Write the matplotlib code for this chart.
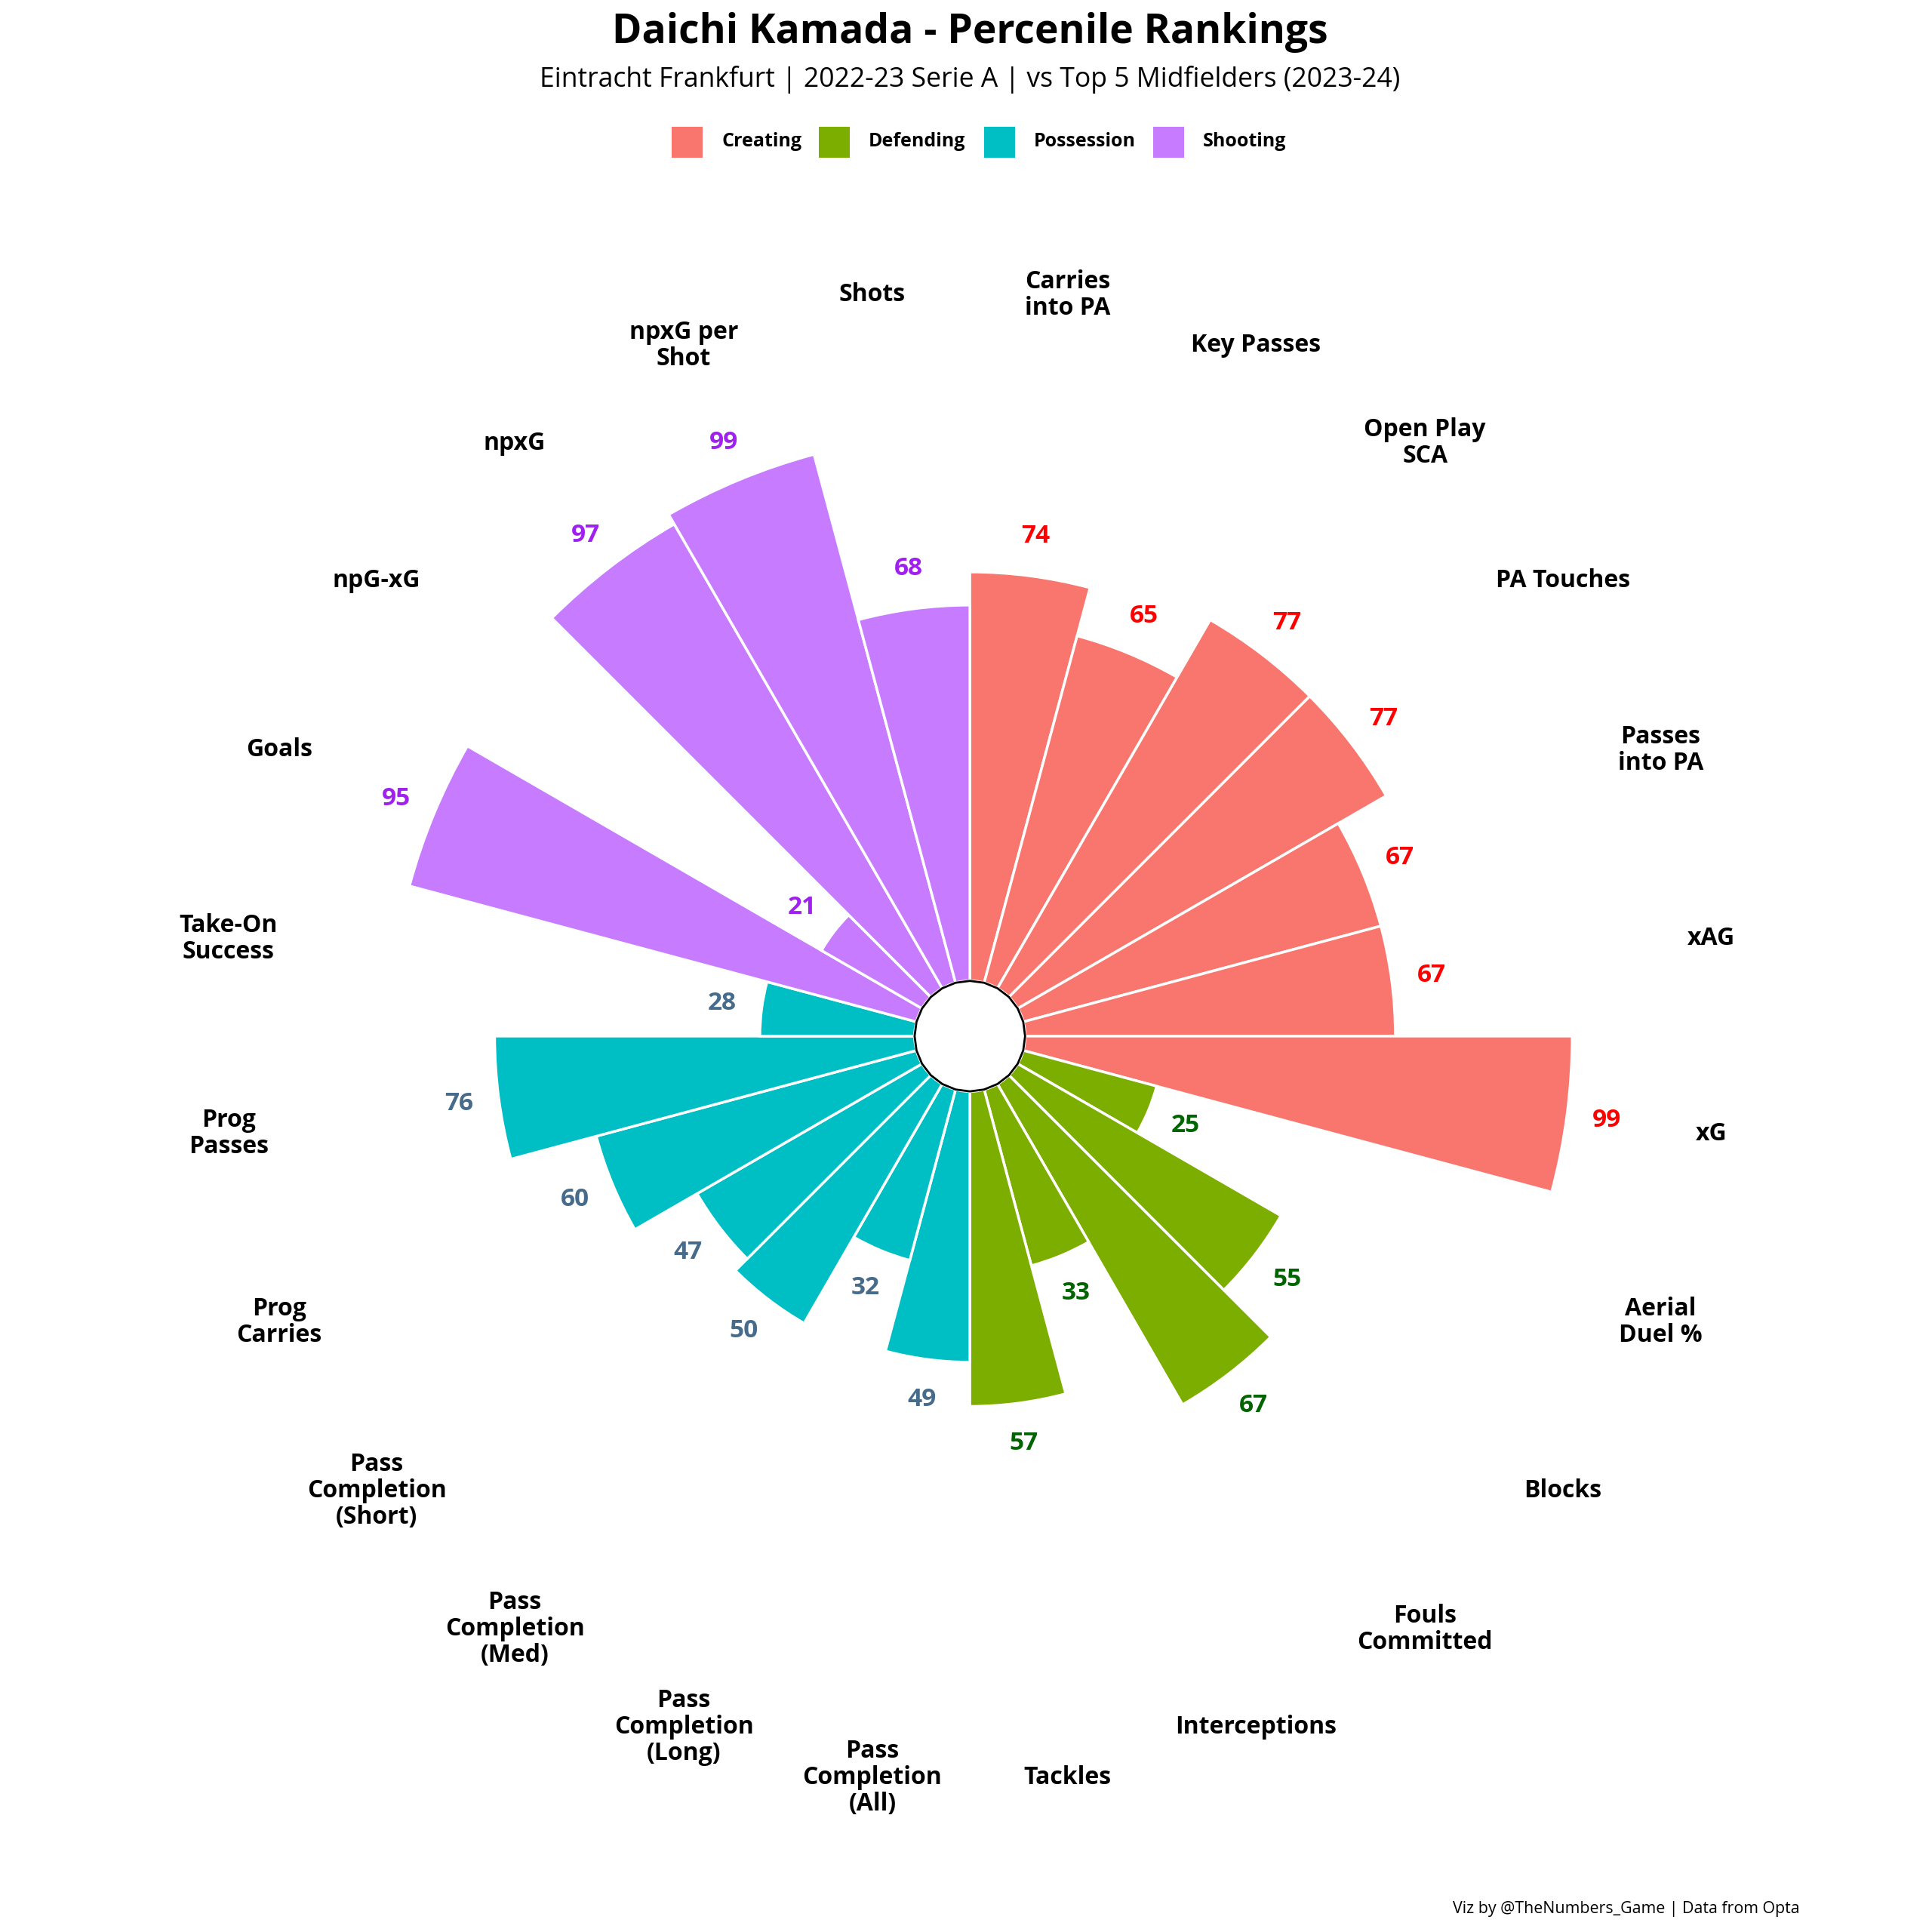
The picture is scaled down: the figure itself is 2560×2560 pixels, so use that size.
import matplotlib
matplotlib.use("Agg")
import matplotlib.pyplot as plt
from matplotlib import font_manager
from matplotlib.patches import Rectangle
import numpy as np

# use a family that actually ships a bold face
bold_fams = {f.name for f in font_manager.fontManager.ttflist
             if f.weight in ('bold', 700, 600, 'semibold') or str(f.weight) in ('700', '600')}
fam = 'Noto Sans' if 'Noto Sans' in bold_fams else 'Open Sans'
plt.rcParams['font.family'] = [fam, 'DejaVu Sans']

# data, clockwise from 12 o'clock
stats = ["Carries\ninto PA", "Key Passes", "Open Play\nSCA", "PA Touches",
         "Passes\ninto PA", "xAG", "xG",
         "Aerial\nDuel %", "Blocks", "Fouls\nCommitted", "Interceptions", "Tackles",
         "Pass\nCompletion\n(All)", "Pass\nCompletion\n(Long)", "Pass\nCompletion\n(Med)",
         "Pass\nCompletion\n(Short)", "Prog\nCarries", "Prog\nPasses", "Take-On\nSuccess",
         "Goals", "npG-xG", "npxG", "npxG per\nShot", "Shots"]
groups = ["Creating"] * 7 + ["Defending"] * 5 + ["Possession"] * 7 + ["Shooting"] * 5
pct = [74, 65, 77, 77, 67, 67, 99,
       25, 55, 67, 33, 57,
       49, 32, 50, 47, 60, 76, 28,
       95, 21, 97, 99, 68]

group_names = ["Creating", "Defending", "Possession", "Shooting"]
bar_col = {"Creating": "#F8766D", "Defending": "#7CAE00",
           "Possession": "#00BFC4", "Shooting": "#C77CFF"}
txt_col = {"Creating": "#FF0000", "Defending": "#006400",
           "Possession": "#476B8B", "Shooting": "#A020F0"}

n = len(stats)
width = 2 * np.pi / n
theta = (np.arange(n) + 0.5) * width

fig = plt.figure(figsize=(25.6, 25.6), dpi=100)
ax = fig.add_axes([0.1016, 0.0633, 0.8008, 0.8008], projection='polar')
ax.set_theta_zero_location('N')
ax.set_theta_direction(-1)
ax.set_ylim(-10, 130)
ax.axis('off')

ax.bar(theta, pct, width=width, bottom=0,
       color=[bar_col[g] for g in groups], edgecolor='white', linewidth=2.5, zorder=2)

# centre hole
tc = np.linspace(0, 2 * np.pi, 25)
ax.fill(tc, np.zeros_like(tc), facecolor='white', edgecolor='black', linewidth=2.0, zorder=3)

for t, v, g in zip(theta, pct, groups):
    ax.text(t, v + 7.3, str(v), ha='center', va='center', fontsize=24,
            fontweight='bold', color=txt_col[g])

for t, s in zip(theta, stats):
    ax.text(t, 125.3, s, ha='center', va='center', fontsize=23,
            fontweight='bold', color='black', linespacing=1.08)

fig.text(0.502, 0.9777, "Daichi Kamada - Percenile Rankings", ha='center', va='baseline',
         fontsize=38.5, fontweight='bold')
fig.text(0.502, 0.9551, "Eintracht Frankfurt | 2022-23 Serie A | vs Top 5 Midfielders (2023-24)",
         ha='center', va='baseline', fontsize=25.6)

# legend row (key squares + labels)
W = 2560.0
key_x = [890, 1085, 1304, 1528]
for g, kx in zip(group_names, key_x):
    fig.patches.append(Rectangle((kx / W, 1 - 209 / W), 41 / W, 41 / W,
                                 transform=fig.transFigure, facecolor=bar_col[g],
                                 edgecolor='none'))
    fig.text((kx + 66) / W, 1 - 188 / W, g, ha='left', va='center',
             fontsize=18, fontweight='bold')

fig.text(0.9313, 0.0098, "Viz by @TheNumbers_Game | Data from Opta", ha='right',
         va='baseline', fontsize=15.4)

fig.savefig("out.png", dpi=100, facecolor='white')
